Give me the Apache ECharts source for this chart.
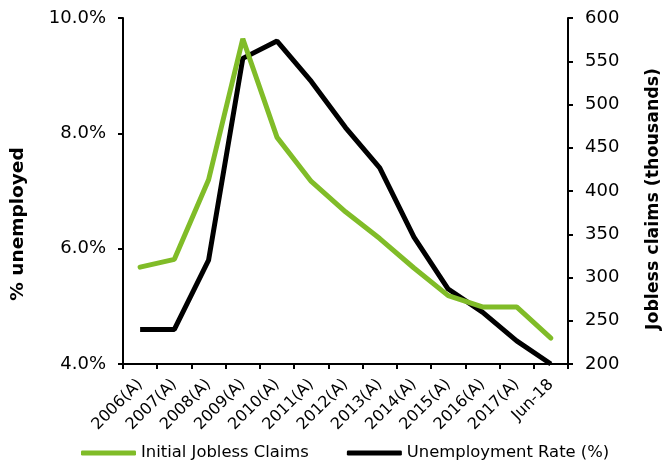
<!DOCTYPE html>
<html>
<head>
<meta charset="utf-8">
<script src="https://cdn.jsdelivr.net/npm/echarts@6/dist/echarts.min.js"></script>
<style>
  html, body { margin: 0; padding: 0; background: #fff; }
  #chart { width: 665px; height: 463px; }
</style>
</head>
<body>
<div id="chart"></div>
<script>
// Year labels along the bottom axis
const categories = ['2006(A)', '2007(A)', '2008(A)', '2009(A)', '2010(A)', '2011(A)', '2012(A)',
  '2013(A)', '2014(A)', '2015(A)', '2016(A)', '2017(A)', 'Jun-18'];

// Unemployment rate, percent (left axis)
const unemploymentRate = [4.6, 4.6, 5.8, 9.3, 9.6, 8.9, 8.1, 7.4, 6.2, 5.3, 4.9, 4.4, 4.0];

// Initial jobless claims, thousands (right axis)
const joblessClaims = [312, 321, 413, 576, 462, 411, 376, 345, 311, 279, 266, 266, 230];

const GREEN = '#80bc28';
const FONT = '"DejaVu Sans", sans-serif';

const chart = echarts.init(document.getElementById('chart'), null, { renderer: 'canvas' });

chart.setOption({
  animation: false,
  backgroundColor: '#ffffff',
  textStyle: { fontFamily: FONT, color: '#000' },
  grid: { left: 123, right: 97, top: 18, bottom: 99, containLabel: false },
  legend: {
    data: ['Initial Jobless Claims', 'Unemployment Rate (%)'],
    left: 76,
    top: 440,
    itemWidth: 55,
    itemHeight: 5,
    itemGap: 38,
    icon: 'roundRect',
    textStyle: { fontFamily: FONT, fontSize: 16.4, color: '#000' }
  },
  xAxis: {
    type: 'category',
    data: categories,
    boundaryGap: true,
    axisLine: { lineStyle: { color: '#000', width: 2 } },
    axisTick: { show: true, length: 5, lineStyle: { color: '#000', width: 2 } },
    axisLabel: { rotate: 45, fontSize: 16, color: '#000', margin: 18, interval: 0, fontFamily: FONT }
  },
  yAxis: [
    {
      type: 'value',
      min: 4, max: 10, interval: 2,
      position: 'left',
      splitLine: { show: false },
      axisLine: { show: true, lineStyle: { color: '#000', width: 2 } },
      axisTick: { show: true, length: 5, lineStyle: { color: '#000', width: 2 } },
      axisLabel: { fontSize: 18, color: '#000', margin: 17, fontFamily: FONT,
        formatter: v => v.toFixed(1) + '%' }
    },
    {
      type: 'value',
      min: 200, max: 600, interval: 50,
      position: 'right',
      splitLine: { show: false },
      axisLine: { show: true, lineStyle: { color: '#000', width: 2 } },
      axisTick: { show: true, length: 5, lineStyle: { color: '#000', width: 2 } },
      axisLabel: { fontSize: 18, color: '#000', margin: 17, fontFamily: FONT }
    }
  ],
  graphic: [
    {
      type: 'text',
      x: 18, y: 224,
      rotation: Math.PI / 2,
      style: { text: '% unemployed', font: 'bold 18.5px "DejaVu Sans", sans-serif', fill: '#000',
        textAlign: 'center', textVerticalAlign: 'middle' }
    },
    {
      type: 'text',
      x: 653, y: 199,
      rotation: Math.PI / 2,
      style: { text: 'Jobless claims (thousands)', font: 'bold 17.4px "DejaVu Sans", sans-serif', fill: '#000',
        textAlign: 'center', textVerticalAlign: 'middle' }
    }
  ],
  series: [
    {
      name: 'Unemployment Rate (%)',
      type: 'line',
      yAxisIndex: 0,
      data: unemploymentRate,
      symbol: 'none',
      color: '#000',
      lineStyle: { width: 5, color: '#000' },
      z: 2
    },
    {
      name: 'Initial Jobless Claims',
      type: 'line',
      yAxisIndex: 1,
      data: joblessClaims,
      symbol: 'none',
      color: GREEN,
      lineStyle: { width: 5, color: GREEN, cap: 'round' },
      z: 3
    }
  ]
});
</script>
</body>
</html>
